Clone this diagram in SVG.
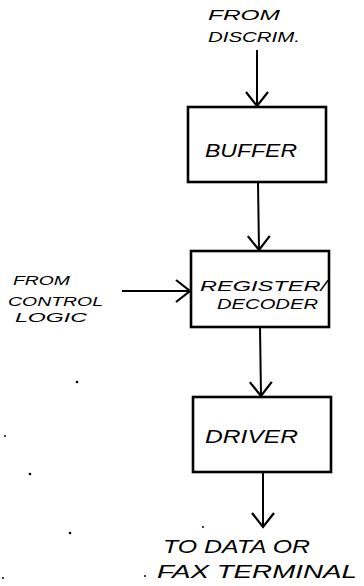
<svg xmlns="http://www.w3.org/2000/svg" width="364" height="586" viewBox="0 0 364 586">
<style>
.box{fill:none;stroke:#000;stroke-width:2.6}
.conn{fill:none;stroke:#000;stroke-width:2}
.lbl{font-family:"Liberation Sans",Arial,sans-serif;font-style:italic;font-size:18px;fill:#000}
.md{font-size:15px}
.sm{font-size:13px}
.dot{fill:#000}
</style>
<defs>
<marker id="v" markerUnits="userSpaceOnUse" markerWidth="30" markerHeight="30" refX="0" refY="0" viewBox="-16 -15 20 30" orient="auto" overflow="visible">
<path d="M-14,-11 L0,0 L-14,11" fill="none" stroke="#000" stroke-width="2.2"/>
</marker>
</defs>
<rect width="364" height="586" fill="#fff"/>
<g id="connectors">
<line class="conn" x1="257" y1="50" x2="257" y2="106" marker-end="url(#v)"/>
<line class="conn" x1="258" y1="182" x2="259" y2="250" marker-end="url(#v)"/>
<line class="conn" x1="122" y1="291" x2="190" y2="291" marker-end="url(#v)"/>
<line class="conn" x1="260" y1="327" x2="261" y2="396" marker-end="url(#v)"/>
<line class="conn" x1="263" y1="472" x2="263" y2="527" marker-end="url(#v)"/>
</g>
<g id="src-discrim">
<text class="lbl md" x="208" y="20" textLength="72" lengthAdjust="spacingAndGlyphs">FROM</text>
<text class="lbl md" x="208" y="42" textLength="92" lengthAdjust="spacingAndGlyphs">DISCRIM.</text>
</g>
<g id="buffer">
<rect class="box" x="188" y="107" width="138" height="75"/>
<text class="lbl" x="205" y="157" textLength="92" lengthAdjust="spacingAndGlyphs">BUFFER</text>
</g>
<g id="src-control">
<text class="lbl sm" x="13" y="285" textLength="57" lengthAdjust="spacingAndGlyphs">FROM</text>
<text class="lbl sm" x="8" y="306" textLength="95" lengthAdjust="spacingAndGlyphs">CONTROL</text>
<text class="lbl sm" x="15" y="322" textLength="72" lengthAdjust="spacingAndGlyphs">LOGIC</text>
</g>
<g id="register">
<rect class="box" x="191" y="251" width="138" height="76"/>
<text class="lbl md" x="200" y="291" textLength="127" lengthAdjust="spacingAndGlyphs">REGISTER/</text>
<text class="lbl md" x="217" y="309" textLength="101" lengthAdjust="spacingAndGlyphs">DECODER</text>
</g>
<g id="driver">
<rect class="box" x="193" y="397" width="138" height="75"/>
<text class="lbl" x="205" y="443" textLength="93" lengthAdjust="spacingAndGlyphs">DRIVER</text>
</g>
<g id="dest">
<text class="lbl" x="163" y="553" textLength="147" lengthAdjust="spacingAndGlyphs">TO DATA OR</text>
<text class="lbl" x="157" y="578" textLength="200" lengthAdjust="spacingAndGlyphs">FAX TERMINAL</text>
</g>
<g id="specks">
<circle class="dot" cx="77" cy="382" r="1.3"/>
<circle class="dot" cx="5" cy="436" r="1"/>
<circle class="dot" cx="30" cy="474" r="1.3"/>
<circle class="dot" cx="70" cy="533" r="1.3"/>
<circle class="dot" cx="3" cy="578" r="1"/>
<circle class="dot" cx="145" cy="576" r="1"/>
<circle class="dot" cx="203" cy="527" r="1"/>
</g>
</svg>
